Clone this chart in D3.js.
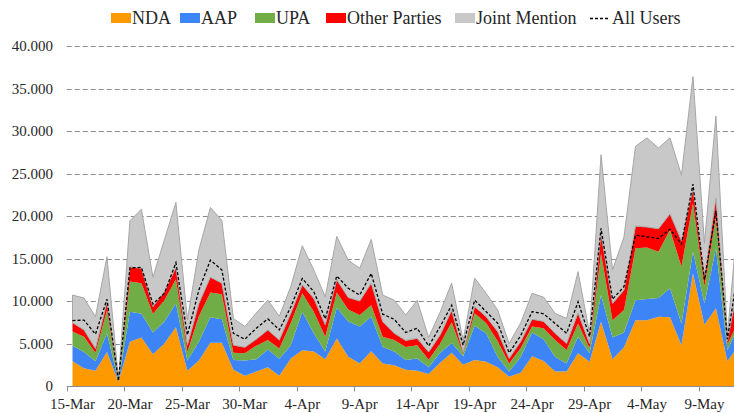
<!DOCTYPE html>
<html lang="en">
<head>
<meta charset="utf-8">
<title>Mentions per day</title>
<style>
    body { margin: 0; background: #fff; }
    text { font-family: "Liberation Serif", "Times New Roman", serif; fill: #262626; }
</style>
</head>
<body>
<script src="https://cdn.jsdelivr.net/npm/d3@7"></script>
<script>

    // days 15-Mar .. 12-May (2014)
    var dates = d3.timeDay.range(new Date(2014, 2, 15), new Date(2014, 4, 13));

    var nda = [2900, 2100, 1800, 4000, 500, 5200, 5700, 3750, 5000, 6900,
        1800, 3000, 5100, 5100, 1900, 1200, 1700, 2200, 1200, 3250,
        4200, 4050, 3150, 5600, 3450, 2650, 4100, 2650, 2450, 1900,
        1800, 1400, 2750, 3900, 2500, 3050, 2850, 2200, 1100, 1550,
        3500, 2950, 1700, 1700, 3850, 2850, 7550, 3150, 4550, 7750,
        7750, 8150, 8100, 4800, 13250, 7200, 9150, 2900, 4800];

    var aap = [1850, 1900, 1100, 2200, 50, 3550, 2800, 2550, 2600, 2800,
        1200, 2200, 3000, 2750, 1150, 1800, 1450, 2100, 2000, 1550,
        4550, 2150, 900, 3600, 4150, 4350, 4050, 1950, 1600, 1150,
        1450, 800, 1150, 1150, 1000, 4050, 3350, 1250, 600, 1850,
        2800, 2550, 1750, 950, 1950, 1000, 3150, 2550, 1750, 2350,
        2500, 2200, 3400, 2550, 2550, 2500, 7050, 1300, 2350];

    var upa = [1650, 1800, 1000, 2700, 50, 3550, 3600, 2200, 2500, 2850,
        1000, 3000, 2900, 2950, 850, 850, 1600, 1100, 1200, 2600,
        2150, 2550, 1750, 1800, 1400, 1350, 1350, 1200, 1350, 1550,
        1550, 900, 1100, 2450, 300, 1450, 1200, 1850, 950, 1050,
        700, 1300, 1950, 1600, 1550, 600, 4900, 2050, 2650, 6100,
        6050, 5450, 6850, 6700, 5700, 2000, 3700, 700, 550];

    var other = [1050, 800, 500, 1000, 50, 1700, 1750, 850, 1000, 1400,
        800, 1500, 1800, 1300, 900, 700, 750, 1200, 1000, 1150,
        1000, 1550, 1400, 1500, 1400, 1650, 2600, 1750, 800, 750,
        800, 900, 1000, 1400, 200, 800, 750, 1100, 600, 750,
        850, 800, 800, 750, 1250, 550, 2350, 1950, 2350, 2600,
        2400, 2700, 1900, 3050, 1750, 1100, 2200, 400, 4700];

    var joint = [3250, 3750, 3750, 5300, 150, 5450, 6950, 3450, 6100, 7650,
        3000, 6300, 8200, 7400, 3150, 2450, 3100, 3500, 2800, 3150,
        4600, 3350, 3300, 5100, 4400, 3850, 5150, 3150, 3900, 3000,
        4450, 1700, 2700, 3200, 1400, 3350, 2750, 2550, 1750, 2200,
        3050, 2850, 2350, 2950, 4850, 1200, 9250, 3950, 6250, 9400,
        10500, 9500, 8950, 7700, 13150, 4000, 9650, 700, 8700];

    var allUsers = [7700, 7750, 6100, 10200, 600, 13900, 13950, 9650, 10900, 14500,
        6000, 11300, 14800, 13650, 6200, 5500, 6800, 7900, 6600, 9300,
        12650, 11100, 7900, 12950, 11500, 10700, 13250, 8450, 7850, 6300,
        6800, 4700, 7000, 9500, 4800, 10100, 8750, 7400, 3900, 5900,
        8750, 8500, 7350, 6200, 9900, 5800, 18550, 10200, 11700, 17750,
        17550, 17350, 18450, 16700, 23750, 12500, 20600, 5500, 14350];

    var seriesNames = ["NDA", "AAP", "UPA", "Other Parties", "Joint Mention"];
    var seriesColors = ["#ff9900", "#3d85f6", "#70ad47", "#ff0000", "#c8c8c8"];
    var yTicks = [0, 5000, 10000, 15000, 20000, 25000, 30000, 35000, 40000];
    var xTickLabels = ["15-Mar", "20-Mar", "25-Mar", "30-Mar", "4-Apr", "9-Apr",
        "14-Apr", "19-Apr", "24-Apr", "29-Apr", "4-May", "9-May"];

    var width = 734,
        height = 413;

    var svg = d3.select("body").append("svg")
        .attr("width", width)
        .attr("height", height);

    var rows = dates.map(function (d, i) {
        return {
            date: d,
            "NDA": nda[i],
            "AAP": aap[i],
            "UPA": upa[i],
            "Other Parties": other[i],
            "Joint Mention": joint[i],
            all: allUsers[i]
        };
    });

    var cw = 11.49;
    var x = d3.scaleBand()
        .domain(dates)
        .range([66.75, 66.75 + dates.length * cw])
        .padding(0);
    var cx = function (d) { return x(d) + x.bandwidth() / 2; };

    var y = d3.scaleLinear()
        .domain([0, 40000])
        .range([386, 46]);

    var fmt = d3.formatLocale({decimal: ",", thousands: ".", grouping: [3], currency: ["", ""]}).format(",");

    // grid lines
    svg.append("g")
        .selectAll("line")
        .data(yTicks.filter(function (v) { return v > 0; }))
        .enter()
        .append("line")
        .attr("x1", 66.75)
        .attr("x2", width)
        .attr("y1", function (d) { return Math.round(y(d)) + 0.5; })
        .attr("y2", function (d) { return Math.round(y(d)) + 0.5; })
        .attr("stroke", "#8a8a8a")
        .attr("stroke-width", 1)
        .attr("stroke-dasharray", "5,3");

    // y labels
    svg.append("g")
        .selectAll("text")
        .data(yTicks)
        .enter()
        .append("text")
        .attr("x", 53)
        .attr("y", function (d) { return y(d); })
        .attr("dy", "0.35em")
        .attr("text-anchor", "end")
        .style("font-size", "15px")
        .text(function (d) { return fmt(d); });

    // stacked areas
    var stack = d3.stack().keys(seriesNames);
    var layers = stack(rows);

    var area = d3.area()
        .x(function (d) { return cx(d.data.date); })
        .y0(function (d) { return y(d[0]); })
        .y1(function (d) { return y(d[1]); });

    svg.append("g")
        .selectAll("path")
        .data(layers)
        .enter()
        .append("path")
        .attr("d", area)
        .attr("fill", function (d, i) { return seriesColors[i]; })
        .attr("stroke", function (d, i) { return i === 4 ? "#a6a6a6" : "none"; })
        .attr("stroke-width", 1);

    // all users line
    var line = d3.line()
        .x(function (d) { return cx(d.date); })
        .y(function (d) { return y(d.all); });

    svg.append("path")
        .datum(rows)
        .attr("d", line)
        .attr("fill", "none")
        .attr("stroke", "#000")
        .attr("stroke-width", 1.3)
        .attr("stroke-dasharray", "3,2");

    // x axis
    svg.append("line")
        .attr("x1", 66.75)
        .attr("x2", width)
        .attr("y1", 386.5)
        .attr("y2", 386.5)
        .attr("stroke", "#8c8c8c");

    var tickDates = dates.filter(function (d, i) { return i % 5 === 0; });

    svg.append("g")
        .selectAll("line")
        .data(tickDates)
        .enter()
        .append("line")
        .attr("x1", function (d) { return Math.round(x(d)) + 0.5; })
        .attr("x2", function (d) { return Math.round(x(d)) + 0.5; })
        .attr("y1", 386.5)
        .attr("y2", 391.5)
        .attr("stroke", "#8c8c8c");

    svg.append("g")
        .selectAll("text")
        .data(tickDates)
        .enter()
        .append("text")
        .attr("x", function (d) { return cx(d); })
        .attr("y", 409)
        .attr("text-anchor", "middle")
        .style("font-size", "15px")
        .text(function (d, i) { return xTickLabels[i]; });

    // legend
    var lgX = [111, 180, 255, 326, 455];
    var lg = svg.append("g");
    seriesNames.forEach(function (name, i) {
        lg.append("rect")
            .attr("x", lgX[i])
            .attr("y", 13)
            .attr("width", 20)
            .attr("height", 10)
            .attr("fill", seriesColors[i]);
        lg.append("text")
            .attr("x", lgX[i] + 21)
            .attr("y", 24)
            .style("font-size", "18px")
            .text(name);
    });
    lg.append("line")
        .attr("x1", 590)
        .attr("x2", 610)
        .attr("y1", 18.5)
        .attr("y2", 18.5)
        .attr("stroke", "#000")
        .attr("stroke-width", 1.3)
        .attr("stroke-dasharray", "3,2");
    lg.append("text")
        .attr("x", 612)
        .attr("y", 24)
        .style("font-size", "18px")
        .text("All Users");

</script>
</body>
</html>
